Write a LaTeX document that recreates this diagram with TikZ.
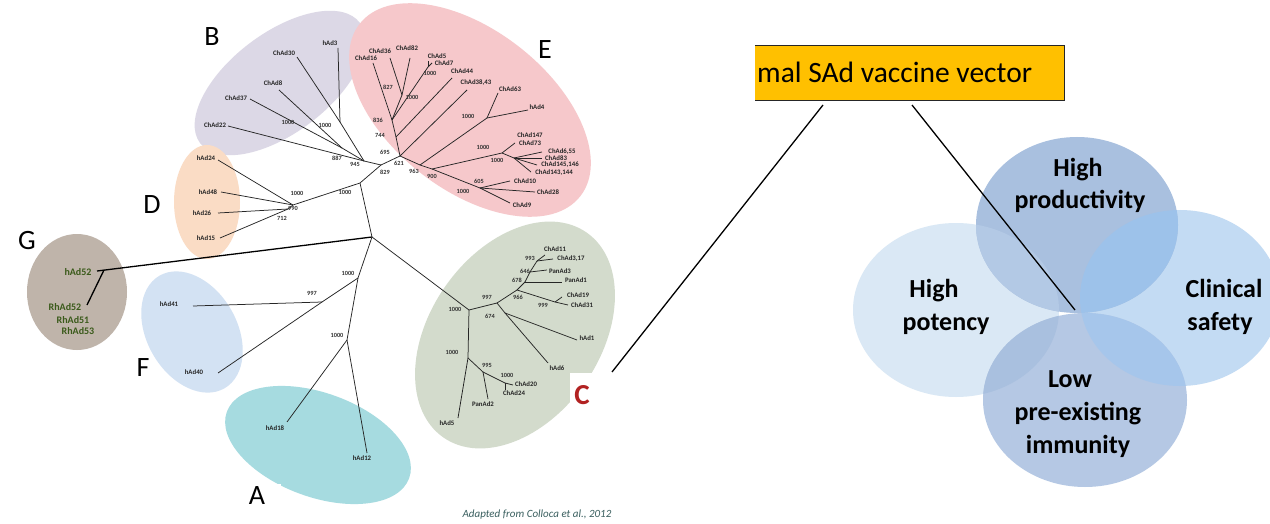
\documentclass[tikz,border=0pt]{standalone}
\usepackage{fontspec}
\setmainfont{Carlito}
\definecolor{cB}{HTML}{DCD8E6}
\definecolor{cE}{HTML}{F6C8CB}
\definecolor{cD}{HTML}{FADCC5}
\definecolor{cG}{HTML}{BFB4AA}
\definecolor{cF}{HTML}{D3E2F3}
\definecolor{cA}{HTML}{A6DBE0}
\definecolor{cC}{HTML}{D3DBCC}
\definecolor{gdark}{HTML}{3A5A1A}
\definecolor{cred}{HTML}{B22222}
\definecolor{boxor}{HTML}{FFC000}
\definecolor{vLc}{HTML}{DAE8F5}
\definecolor{vRc}{HTML}{C3DBF3}
\definecolor{vTc}{HTML}{A9C0DF}
\definecolor{vBc}{HTML}{B5C8E4}
\definecolor{vTLc}{HTML}{B3C9E5}
\definecolor{vTRc}{HTML}{9DC2EA}
\definecolor{vBLc}{HTML}{A9C0DF}
\definecolor{vBRc}{HTML}{A6C6EB}
\definecolor{srcc}{HTML}{3A5F5F}
\tikzset{
 treeline/.style={draw=black!85, line width=0.75pt},
 leaf/.style={font=\bfseries\fontsize{6.8}{8}\selectfont, text=black!85, inner sep=0pt},
 boot/.style={font=\bfseries\fontsize{6.3}{7}\selectfont, text=black!80, inner sep=0pt},
 grpl/.style={font=\fontsize{28}{28}\selectfont, inner sep=0pt},
 gleaf/.style={font=\bfseries\fontsize{10}{11}\selectfont, text=gdark, inner sep=0pt},
 venntxt/.style={font=\bfseries\fontsize{26}{31}\selectfont, anchor=base, inner sep=0pt},
 conn/.style={draw=black, line width=1.3pt},
}
\begin{document}
\begin{tikzpicture}[x=1pt,y=-1pt]
\useasboundingbox (0,0) rectangle (1270,524);
\fill[white] (0,0) rectangle (1270,524);
% ---------- group ellipses ----------
\fill[cB, rotate around={37:(280,83)}] (280,83) ellipse [x radius=100pt, y radius=50pt];
\fill[cE, rotate around={-38:(470,110)}] (470,110) ellipse [x radius=140pt, y radius=80pt];
\fill[cD] (207,202) ellipse [x radius=33pt, y radius=57pt];
\fill[cG] (77,292) ellipse [x radius=50pt, y radius=58pt];
\fill[cF, rotate around={-60:(192,332)}] (192,332) ellipse [x radius=65pt, y radius=45pt];
\fill[cA, rotate around={-20:(318,445)}] (318,445) ellipse [x radius=97pt, y radius=52pt];
\fill[cC, rotate around={55:(515,335)}] (515,335) ellipse [x radius=125pt, y radius=85pt];
\fill[white] (238,484) rectangle (281,514);
\fill[white] (570,373) rectangle (614,420);
% ---------- tree coordinates ----------
\coordinate (O) at (372,237);
\coordinate (g52) at (97,271);
\coordinate (gJ) at (104,270);
\coordinate (gR) at (87,305);
\coordinate (n1) at (360,183);
\coordinate (nD) at (293,205);
\coordinate (nD2) at (288,209);
\coordinate (d24) at (218,160);
\coordinate (d48) at (221,192);
\coordinate (d26) at (218,213);
\coordinate (d15) at (220,238);
\coordinate (jX) at (381,165);
\coordinate (jB) at (364,161);
\coordinate (jB1) at (342,148);
\coordinate (jB2) at (340,122);
\coordinate (b22) at (228,126);
\coordinate (b37) at (250,99);
\coordinate (b8) at (279,90);
\coordinate (b30) at (297,57);
\coordinate (b3) at (338,48);
\coordinate (jE) at (400,156);
\coordinate (eA) at (396,137);
\coordinate (eB) at (392,120);
\coordinate (e16) at (373,63);
\coordinate (eC) at (402,95);
\coordinate (e36) at (390,58);
\coordinate (e82) at (410,58);
\coordinate (eF) at (428,67);
\coordinate (e5) at (428,61);
\coordinate (e7) at (432,63);
\coordinate (e44) at (452,78);
\coordinate (e38) at (467,90);
\coordinate (eI) at (420,165);
\coordinate (eH) at (487,118);
\coordinate (e63) at (498,93);
\coordinate (e4) at (528,110);
\coordinate (eJ) at (432,169);
\coordinate (eK) at (502,153);
\coordinate (e73) at (515,143);
\coordinate (eL) at (514,158);
\coordinate (e655) at (542,152);
\coordinate (e83) at (542,158);
\coordinate (e145) at (537,165);
\coordinate (e143) at (531,172);
\coordinate (eM) at (480,188);
\coordinate (e10) at (510,181);
\coordinate (e28) at (535,192);
\coordinate (e9) at (510,203);
\coordinate (jC) at (469,310);
\coordinate (jC2) at (468,358);
\coordinate (c5) at (458,418);
\coordinate (jC3) at (483,372);
\coordinate (cP2) at (488,399);
\coordinate (jC4) at (505,383);
\coordinate (c20) at (513,385);
\coordinate (c24) at (505,390);
\coordinate (jC5) at (497,303);
\coordinate (jC6) at (505,313);
\coordinate (c1) at (577,340);
\coordinate (c6) at (548,363);
\coordinate (jC7) at (517,290);
\coordinate (jC11) at (555,302);
\coordinate (c19) at (562,297);
\coordinate (c31) at (568,305);
\coordinate (jC8) at (525,282);
\coordinate (cP1) at (562,282);
\coordinate (jC9) at (530,272);
\coordinate (cP3) at (547,270);
\coordinate (jC10) at (537,261);
\coordinate (c11) at (545,255);
\coordinate (c317) at (553,259);
\coordinate (jFA) at (358,278);
\coordinate (jF) at (322,302);
\coordinate (f41) at (193,306);
\coordinate (f40) at (218,373);
\coordinate (jA) at (347,340);
\coordinate (a18) at (287,422);
\coordinate (a12) at (367,453);
% ---------- tree branches ----------
\draw[black, line width=1.3pt] (O) -- (g52);
\draw[black, line width=1.3pt] (gJ) -- (gR);
\foreach \a/\b in {O/n1, n1/nD, nD/d24, nD/d48, nD/nD2, nD2/d26, nD2/d15,
  n1/jX, jX/jB, jB/b22, jB/jB1, jB1/b37, jB1/b8, jB/jB2, jB2/b30, jB2/b3,
  jX/jE, jE/eA, eA/eB, eB/e16, eB/eC, eC/e36, eC/e82, eB/eF, eF/e5, eF/e7,
  eA/e44, jE/e38, jE/eI, eI/eH, eH/e63, eH/e4, eI/eJ, eJ/eK, eK/e73, eK/eL,
  eL/e655, eL/e83, eL/e145, eL/e143, eJ/eM, eM/e10, eM/e28, eM/e9,
  O/jC, jC/jC2, jC2/c5, jC2/jC3, jC3/cP2, jC3/jC4, jC4/c20, jC4/c24,
  jC/jC5, jC5/jC6, jC6/c1, jC6/c6, jC5/jC7, jC7/jC11, jC11/c19, jC11/c31,
  jC7/jC8, jC8/cP1, jC8/jC9, jC9/cP3, jC9/jC10, jC10/c11, jC10/c317,
  O/jFA, jFA/jF, jF/f41, jF/f40, jFA/jA, jA/a18, jA/a12}
  \draw[treeline] (\a) -- (\b);
% ---------- bootstrap values ----------
\node[boot] (bt1) at (297,193) {1000};
\node[boot] (bt2) at (345,192) {1000};
\node[boot] (bt3) at (293,208) {990};
\node[boot] (bt4) at (282,218) {712};
\node[boot] (bt5) at (288,122) {1000};
\node[boot] (bt6) at (325,125) {1000};
\node[boot] (bt7) at (337,158) {887};
\node[boot] (bt8) at (355,164) {945};
\node[boot] (bt9) at (385,172) {829};
\node[boot] (bt10) at (385,152) {695};
\node[boot] (bt11) at (399,163) {621};
\node[boot] (bt12) at (378,120) {836};
\node[boot] (bt13) at (380,135) {744};
\node[boot] (bt14) at (388,87) {827};
\node[boot] (bt15) at (412,97) {1000};
\node[boot] (bt16) at (430,73) {1000};
\node[boot] (bt17) at (468,116) {1000};
\node[boot] (bt18) at (414,171) {963};
\node[boot] (bt19) at (432,176) {900};
\node[boot] (bt20) at (483,147) {1000};
\node[boot] (bt21) at (497,160) {1000};
\node[boot] (bt22) at (479,181) {605};
\node[boot] (bt23) at (463,191) {1000};
\node[boot] (bt24) at (455,309) {1000};
\node[boot] (bt25) at (487,297) {997};
\node[boot] (bt26) at (490,316) {674};
\node[boot] (bt27) at (518,297) {966};
\node[boot] (bt28) at (543,305) {999};
\node[boot] (bt29) at (517,280) {678};
\node[boot] (bt30) at (525,271) {646};
\node[boot] (bt31) at (530,258) {993};
\node[boot] (bt32) at (452,352) {1000};
\node[boot] (bt33) at (487,365) {995};
\node[boot] (bt34) at (507,375) {1000};
\node[boot] (bt35) at (348,273) {1000};
\node[boot] (bt36) at (312,293) {997};
\node[boot] (bt37) at (337,335) {1000};
% ---------- leaf labels ----------
\node[leaf] (hAd24) at (206,158) {hAd24};
\node[leaf] (hAd48) at (208,192) {hAd48};
\node[leaf] (hAd26) at (202,213) {hAd26};
\node[leaf] (hAd15) at (206,238) {hAd15};
\node[leaf] (ChAd22) at (215,125) {ChAd22};
\node[leaf] (ChAd37) at (236,98) {ChAd37};
\node[leaf] (ChAd8) at (273,83) {ChAd8};
\node[leaf] (ChAd30) at (284,53) {ChAd30};
\node[leaf] (hAd3) at (330,43) {hAd3};
\node[leaf] (ChAd16) at (366,58) {ChAd16};
\node[leaf] (ChAd36) at (380,51) {ChAd36};
\node[leaf] (ChAd82) at (407,48) {ChAd82};
\node[leaf] (ChAd5) at (437,56) {ChAd5};
\node[leaf] (ChAd7) at (444,63) {ChAd7};
\node[leaf] (ChAd44) at (462,71) {ChAd44};
\node[leaf] (ChAd3843) at (476,83) {ChAd38,43};
\node[leaf] (ChAd63) at (510,89) {ChAd63};
\node[leaf] (hAd4) at (537,107) {hAd4};
\node[leaf] (ChAd147) at (530,135) {ChAd147};
\node[leaf] (ChAd73) at (530,143) {ChAd73};
\node[leaf] (ChAd655) at (562,152) {ChAd6,55};
\node[leaf] (ChAd83) at (556,158) {ChAd83};
\node[leaf] (ChAd145) at (560,165) {ChAd145,146};
\node[leaf] (ChAd143) at (554,173) {ChAd143,144};
\node[leaf] (ChAd10) at (525,181) {ChAd10};
\node[leaf] (ChAd28) at (548,192) {ChAd28};
\node[leaf] (ChAd9) at (522,205) {ChAd9};
\node[leaf] (ChAd11) at (555,249) {ChAd11};
\node[leaf] (ChAd317) at (571,259) {ChAd3,17};
\node[leaf] (PanAd3) at (560,271) {PanAd3};
\node[leaf] (PanAd1) at (576,280) {PanAd1};
\node[leaf] (ChAd19) at (578,295) {ChAd19};
\node[leaf] (ChAd31) at (582,305) {ChAd31};
\node[leaf] (hAd1) at (587,338) {hAd1};
\node[leaf] (hAd6) at (557,368) {hAd6};
\node[leaf] (ChAd20) at (526,384) {ChAd20};
\node[leaf] (ChAd24) at (514,393) {ChAd24};
\node[leaf] (PanAd2) at (483,404) {PanAd2};
\node[leaf] (hAd5) at (447,423) {hAd5};
\node[leaf] (hAd41) at (169,304) {hAd41};
\node[leaf] (hAd40) at (194,372) {hAd40};
\node[leaf] (hAd18) at (275,428) {hAd18};
\node[leaf] (hAd12) at (362,458) {hAd12};
\node[gleaf] (hAd52) at (78,272) {hAd52};
\node[gleaf] (RhAd52) at (65,307) {RhAd52};
\node[gleaf] (RhAd51) at (73,320) {RhAd51};
\node[gleaf] (RhAd53) at (78,331) {RhAd53};
% ---------- group letters ----------
\node[grpl] (LB) at (212,37) {B};
\node[grpl] (LE) at (545,50) {E};
\node[grpl] (LD) at (152,205) {D};
\node[grpl] (LG) at (27,241) {G};
\node[grpl] (LF) at (143,368) {F};
\node[grpl] (LA) at (257,496) {A};
\node[grpl, font=\bfseries\fontsize{29}{29}\selectfont, text=cred] (LC) at (582,395) {C};
\node[font=\itshape\fontsize{11}{12}\selectfont, text=srcc, inner sep=0pt] (src) at (537,515) {Adapted from Colloca et al., 2012};
% ---------- right side: title box ----------
\node[fill=boxor, minimum width=309pt, minimum height=55pt, inner sep=0pt, anchor=north west] (box) at (755,45) {};
\draw[black!85, line width=0.8pt] (box.north west) -- (box.north east) -- (box.south east) -- (box.south west);
\node[font=\fontsize{29.5}{30}\selectfont, anchor=base west, inner sep=0pt] (title) at (757,83) {mal SAd vaccine vector};
% ---------- Venn ----------
\fill[vLc] (956,310) ellipse [x radius=103pt, y radius=87pt];
\fill[vRc] (1180,298) ellipse [x radius=100pt, y radius=88pt];
\fill[vTc] (1077,225) ellipse [x radius=101pt, y radius=88pt];
\fill[vBc] (1085,400) ellipse [x radius=102pt, y radius=87pt];
\begin{scope}
\clip (1077,225) ellipse [x radius=101pt, y radius=88pt];
\fill[vTLc] (956,310) ellipse [x radius=103pt, y radius=87pt];
\fill[vTRc] (1180,298) ellipse [x radius=100pt, y radius=88pt];
\end{scope}
\begin{scope}
\clip (1085,400) ellipse [x radius=102pt, y radius=87pt];
\fill[vBLc] (956,310) ellipse [x radius=103pt, y radius=87pt];
\fill[vBRc] (1180,298) ellipse [x radius=100pt, y radius=88pt];
\end{scope}
\node[venntxt] (t1) at (1078,177) {High};
\node[venntxt] (t2) at (1080,208) {productivity};
\node[venntxt] (t3) at (934,297) {High};
\node[venntxt] (t4) at (946,330) {potency};
\node[venntxt] (t5) at (1224,297) {Clinical};
\node[venntxt] (t6) at (1220,330) {safety};
\node[venntxt] (t7) at (1070,387) {Low};
\node[venntxt] (t8) at (1078,420) {pre-existing};
\node[venntxt] (t9) at (1078,453) {immunity};
% ---------- connectors ----------
\coordinate (bl) at (823,105);
\coordinate (br) at (912,105);
\coordinate (cend) at (612,372);
\coordinate (vc) at (1075,310);
\draw[conn] (bl) -- (cend);
\draw[conn] (br) -- (vc);
\end{tikzpicture}
\end{document}
